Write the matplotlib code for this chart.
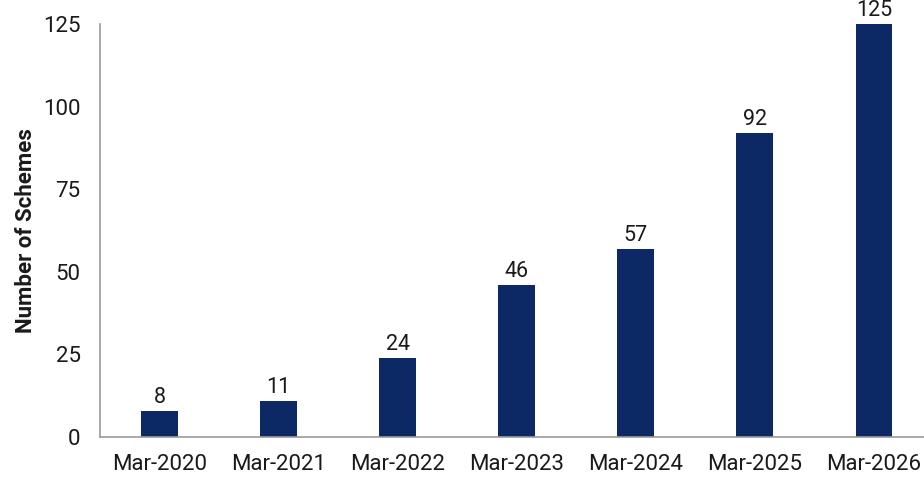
import matplotlib
matplotlib.use('Agg')
import matplotlib.pyplot as plt

# scheme counts by year end
periods = ['Mar-2020', 'Mar-2021', 'Mar-2022', 'Mar-2023', 'Mar-2024', 'Mar-2025', 'Mar-2026']
schemes = [8, 11, 24, 46, 57, 92, 125]
y_ticks = [0, 25, 50, 75, 100, 125]

plt.rcParams['font.family'] = ['Roboto', 'DejaVu Sans']

bar_color = '#0c2865'
axis_color = '#9a9a9a'
text_color = '#1a1a1a'

fig = plt.figure(figsize=(9.24, 4.82), dpi=100)
ax = fig.add_axes([100 / 924, 45 / 482, 824 / 924, 413 / 482])

x = list(range(len(periods)))
bars = ax.bar(x, schemes, width=0.31, color=bar_color, zorder=2)

for rect, val in zip(bars, schemes):
    ax.annotate(str(val), (rect.get_x() + rect.get_width() / 2, val),
                xytext=(0, 2), textcoords='offset points',
                ha='center', va='bottom', fontsize=15.5, color=text_color,
                annotation_clip=False)

ax.set_xlim(-0.5, 6.42)
ax.set_ylim(0, 125)
ax.set_yticks(y_ticks)
ax.set_xticks(x)
ax.set_xticklabels(periods)
ax.tick_params(axis='both', length=0, labelsize=16, labelcolor=text_color)
ax.tick_params(axis='y', pad=14)
ax.tick_params(axis='x', pad=12)

ax.set_ylabel('Number of Schemes', fontsize=16, fontweight='bold', color=text_color)
ax.yaxis.set_label_coords(-63 / 824, 0.5)

for side in ['top', 'right']:
    ax.spines[side].set_visible(False)
for side in ['left', 'bottom']:
    ax.spines[side].set_color(axis_color)
    ax.spines[side].set_linewidth(1.2)

fig.savefig('out.png', dpi=100, facecolor='white')
